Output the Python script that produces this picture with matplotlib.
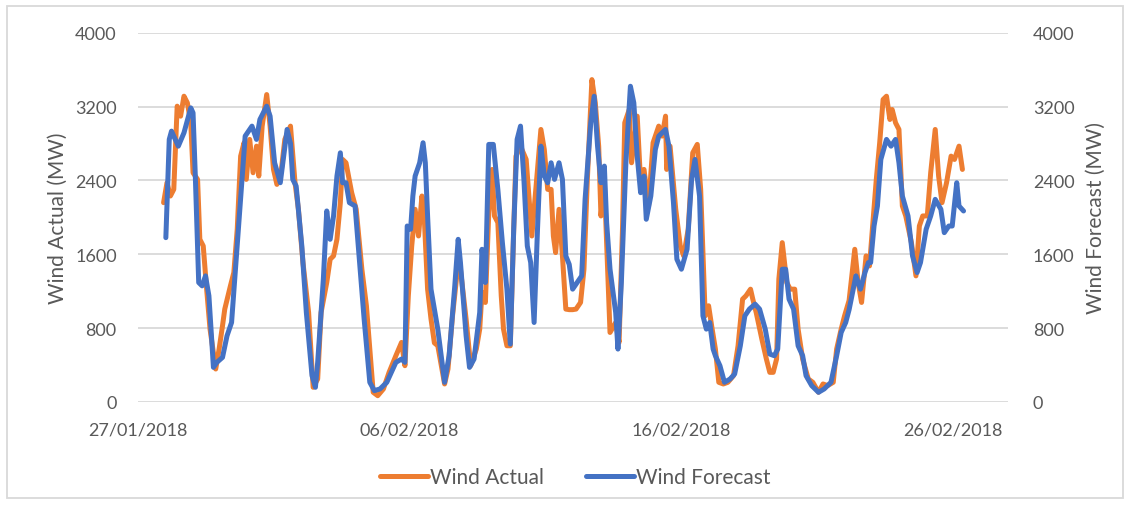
import numpy as np
import pandas as pd
import matplotlib
matplotlib.use("Agg")
import matplotlib.pyplot as plt
import matplotlib.dates as mdates
from matplotlib.patches import Rectangle

# Hours after 27/01/2018 00:00 and MW values
start = pd.Timestamp("2018-01-27")

forecast_hours = [25, 28, 30, 36, 41, 47, 49, 51, 54, 57, 60, 63, 67, 70, 75, 79, 83, 89, 95, 101,
                  105, 108, 114, 117, 121, 126, 132, 135, 137, 140, 145, 149, 154, 157, 159, 164,
                  167, 170, 173, 176, 179, 181, 184, 187, 192, 196, 200, 205, 209, 214, 220, 224,
                  228, 233, 236, 238, 241, 243, 245, 249, 252, 254, 256, 259, 262, 265, 271, 275,
                  280, 283, 285, 290, 293, 297, 302, 304, 307, 310, 314, 318, 322, 326, 329, 332,
                  335, 338, 341, 344, 347, 350, 353, 356, 359, 362, 365, 368, 372, 375, 378, 381,
                  384, 388, 392, 395, 400, 403, 406, 409, 412, 414, 417, 422, 424, 427, 431, 435,
                  438, 441, 444, 447, 449, 453, 457, 460, 466, 469, 473, 476, 480, 485, 489, 492,
                  496, 499, 502, 505, 508, 510, 514, 518, 523, 527, 532, 536, 540, 545, 549, 554,
                  558, 562, 565, 569, 572, 575, 579, 583, 587, 590, 595, 601, 606, 612, 617, 621,
                  625, 628, 631, 634, 638, 642, 645, 647, 650, 653, 656, 661, 665, 669, 672, 675,
                  680, 684, 688, 691, 696, 700, 704, 709, 712, 716, 719, 723, 725, 729]
forecast_mw = [1780, 2844, 2934, 2771, 2916, 3186, 3132, 2447, 1294, 1258, 1366, 1150, 375, 429,
               483, 717, 861, 1871, 2880, 2988, 2844, 3060, 3204, 3096, 2591, 2375, 2952, 2800,
               2411, 2339, 1690, 969, 285, 159, 429, 1330, 2069, 1762, 2015, 2447, 2699, 2375,
               2375, 2159, 2123, 1510, 897, 213, 123, 141, 213, 321, 429, 465, 429, 1906, 1871,
               2231, 2447, 2591, 2808, 2591, 2015, 1222, 1006, 789, 213, 501, 1258, 1762, 1510,
               717, 375, 465, 969, 1654, 1294, 2790, 2790, 2303, 1726, 1222, 627, 1871, 2844,
               2988, 2411, 1690, 1510, 861, 1871, 2771, 2447, 2375, 2591, 2411, 2591, 2411,
               1582, 1490, 1222, 1294, 1366, 2195, 3024, 3312, 2771, 2375, 2555, 1943, 1438,
               969, 573, 1294, 2591, 3420, 3240, 2663, 2267, 2447, 1979, 2231, 2735, 2880,
               2952, 2771, 2159, 1546, 1438, 1654, 2411, 2627, 2231, 933, 789, 861, 573, 501,
               393, 213, 249, 303, 609, 933, 1006, 1060, 1006, 789, 519, 501, 573, 1438, 1438,
               1114, 1006, 609, 501, 285, 177, 105, 141, 213, 501, 753, 861, 1000, 1186, 1366,
               1222, 1402, 1510, 1510, 1906, 2123, 2627, 2844, 2771, 2844, 2591, 2231, 2015,
               1582, 1402, 1510, 1871, 2015, 2195, 2087, 1834, 1906, 1906, 2375, 2123, 2069]

actual_hours = [23, 26, 29, 32, 35, 38, 41, 44, 47, 49, 53, 55, 58, 61, 64, 69, 72, 75, 77, 82,
                85, 88, 91, 94, 96, 99, 102, 105, 107, 110, 114, 117, 120, 123, 127, 130, 135,
                139, 142, 146, 151, 155, 159, 162, 167, 170, 173, 176, 179, 181, 184, 189, 193,
                198, 202, 208, 212, 217, 222, 228, 233, 236, 239, 242, 245, 248, 251, 253, 256,
                259, 262, 265, 271, 274, 278, 283, 285, 290, 294, 299, 302, 304, 307, 310, 313,
                315, 318, 321, 323, 326, 329, 332, 334, 338, 343, 346, 348, 351, 356, 359, 362,
                365, 367, 369, 372, 375, 378, 381, 384, 387, 391, 394, 397, 401, 404, 407, 409,
                412, 414, 417, 422, 425, 428, 430, 434, 436, 441, 444, 447, 451, 455, 460, 463,
                466, 467, 470, 475, 479, 482, 486, 490, 494, 497, 501, 504, 507, 510, 513, 517,
                521, 526, 530, 534, 537, 541, 543, 546, 551, 555, 558, 561, 564, 566, 569, 573,
                576, 580, 583, 587, 592, 596, 601, 605, 609, 614, 617, 621, 624, 628, 633, 636,
                639, 643, 646, 649, 652, 655, 658, 661, 664, 666, 669, 672, 675, 678, 683, 687,
                690, 693, 697, 700, 704, 707, 710, 714, 718, 721, 725, 728]
actual_mw = [2159, 2375, 2231, 2303, 3204, 3096, 3312, 3240, 3024, 2483, 2411, 1762, 1690, 1222,
             789, 357, 573, 825, 1006, 1258, 1402, 1871, 2663, 2808, 2411, 2844, 2483, 2771,
             2447, 2988, 3330, 2988, 2519, 2357, 2519, 2844, 2988, 2375, 2087, 1510, 969, 159,
             249, 969, 1294, 1546, 1582, 1762, 2159, 2627, 2591, 2267, 2087, 1438, 1042, 105,
             68, 141, 321, 501, 645, 393, 1150, 1690, 2087, 1798, 2231, 2015, 1222, 900, 640,
             609, 195, 357, 933, 1510, 1438, 897, 393, 573, 789, 1186, 1078, 2051, 2519, 2015,
             1943, 1150, 789, 609, 609, 1871, 2663, 2771, 2627, 2123, 1798, 2231, 2952, 2735,
             2303, 2303, 1798, 1618, 2087, 1582, 1006, 1000, 1000, 1006, 1078, 1438, 2411, 3492,
             3240, 2771, 2015, 2375, 1726, 753, 861, 645, 1871, 3024, 3168, 2591, 3096, 2375,
             2519, 2123, 2808, 2988, 2880, 3096, 2519, 2771, 2087, 1690, 1582, 1871, 2699, 2790,
             2303, 933, 1042, 800, 573, 213, 195, 213, 285, 609, 1114, 1150, 1222, 1114, 969,
             681, 465, 321, 321, 465, 1330, 1726, 1294, 1222, 1222, 789, 465, 249, 213, 105,
             195, 177, 213, 573, 789, 933, 1100, 1654, 1294, 1078, 1582, 1474, 1943, 2411, 2808,
             3276, 3312, 3060, 3168, 3024, 2952, 2123, 2015, 1726, 1366, 1906, 2015, 2015, 2483,
             2952, 2447, 2159, 2375, 2663, 2627, 2771, 2519]

y_ticks = [0, 800, 1600, 2400, 3200, 4000]
x_ticks = ["2018-01-27", "2018-02-06", "2018-02-16", "2018-02-26"]

t_forecast = start + pd.to_timedelta(forecast_hours, unit="h")
t_actual = start + pd.to_timedelta(actual_hours, unit="h")

plt.rcParams['font.family'] = ['Lato', 'DejaVu Sans']
grey = '#595959'
orange = '#ED7D31'
blue = '#4472C4'

fig = plt.figure(figsize=(11.3, 5.06), dpi=100)
ax = fig.add_axes([0.1217, 0.2036, 0.7701, 0.7298])
ax2 = ax.twinx()

l1, = ax.plot(t_actual, actual_mw, color=orange, lw=3.6, solid_joinstyle='round',
              solid_capstyle='round', label='Wind Actual')
l2, = ax2.plot(t_forecast, forecast_mw, color=blue, lw=3.6, solid_joinstyle='round',
               solid_capstyle='round', label='Wind Forecast')

for a in (ax, ax2):
    a.set_ylim(0, 4000)
    a.set_yticks(y_ticks)
    for s in a.spines.values():
        s.set_visible(False)
    a.tick_params(length=0, labelsize=13, labelcolor=grey)

ax.tick_params(axis='y', pad=15)
ax2.tick_params(axis='y', pad=18)
ax.tick_params(axis='x', pad=14)
ax.yaxis.grid(True, color='#D9D9D9', lw=1.3)
ax.set_axisbelow(True)

ax.set_xlim(start, pd.Timestamp("2018-02-28"))
ax.set_xticks(pd.to_datetime(x_ticks))
ax.xaxis.set_major_formatter(mdates.DateFormatter('%d/%m/%Y'))

ax.set_ylabel('Wind Actual (MW)', fontsize=15, color=grey, labelpad=5)
ax2.set_ylabel('Wind Forecast (MW)', fontsize=15, color=grey, labelpad=8)

fig.legend(handles=[l1, l2], loc='center', bbox_to_anchor=(0.509, 0.055), ncol=2,
           frameon=False, fontsize=15, labelcolor=grey, handlelength=2.3,
           handletextpad=0.1, columnspacing=2.0)

# light frame round the whole chart, as in the original
fig.patches.append(Rectangle((7 / 1130, 7 / 506), 1116 / 1130, 492 / 506,
                             transform=fig.transFigure, fill=False,
                             edgecolor='#D9D9D9', lw=1.3))

fig.savefig('out.png', dpi=100)
